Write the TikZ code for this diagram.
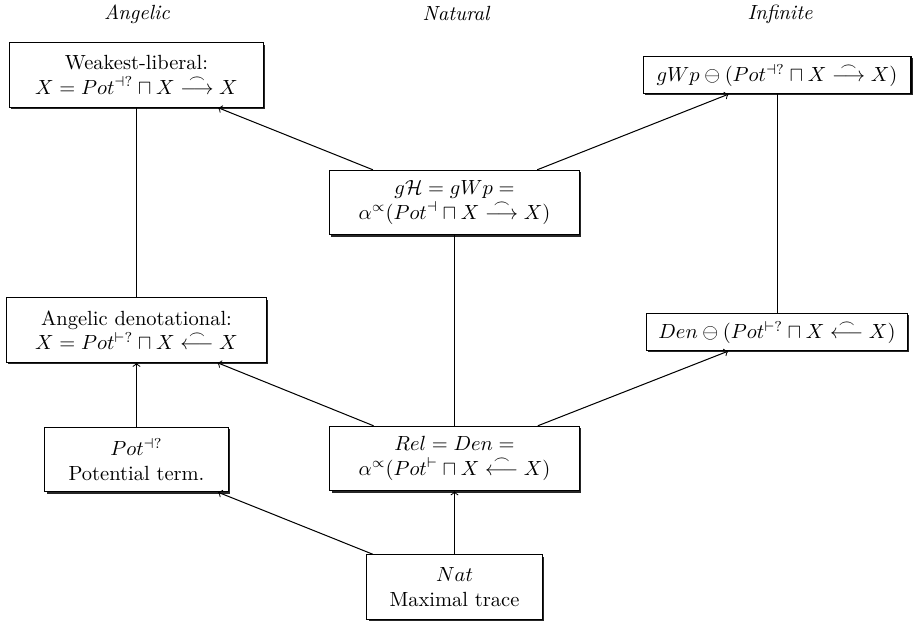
\documentclass[tikz,border=0pt]{standalone}
\usepackage{amsmath,amssymb}
\usetikzlibrary{shadows}
\newcommand{\rarc}{\mathrel{\overset{\frown}{\longrightarrow}}}
\newcommand{\larc}{\mathrel{\overset{\frown}{\longleftarrow}}}
\tikzset{
  box/.style={draw, line width=0.5pt, fill=white, align=center, inner sep=2pt,
    drop shadow={shadow xshift=0.9pt, shadow yshift=-0.9pt, fill=black, opacity=0.85}},
  tall/.style={box, minimum height=31.4pt},
  flat/.style={box, minimum height=18.2pt},
  conn/.style={line width=0.5pt},
  arr/.style={conn, ->},
  head/.style={font=\itshape}
}
\begin{document}
\begin{tikzpicture}[x=0.4878pt, y=-0.4878pt]
\useasboundingbox (0,0) rectangle (915,622);
% column headings
\node[head] (hA) at (137,14) {Angelic};
\node[head] (hN) at (456,14) {Natural};
\node[head] (hI) at (780,14) {Infinite};
% boxes
\node[tall, minimum width=123.9pt] (wl) at (136.5,75)
  {Weakest-liberal:\\ $X = Pot^{\dashv ?} \sqcap X \rarc X$};
\node[flat, minimum width=130.7pt] (gwp) at (777,75)
  {$gWp \ominus (Pot^{\dashv ?} \sqcap X \rarc X)$};
\node[tall, minimum width=122pt] (gh) at (454.5,202.5)
  {$g\mathcal{H} = gWp =$\\ $\alpha^{\propto}(Pot^{\dashv} \sqcap X \rarc X)$};
\node[tall, minimum width=126.8pt] (ad) at (136.5,330)
  {Angelic denotational:\\ $X = Pot^{\vdash ?} \sqcap X \larc X$};
\node[flat, minimum width=127.3pt] (den) at (777,332)
  {$Den \ominus (Pot^{\vdash ?} \sqcap X \larc X)$};
\node[tall, minimum width=89.3pt] (pot) at (136.5,459.5)
  {$Pot^{\dashv ?}$\\ Potential term.};
\node[tall, minimum width=121.5pt] (rel) at (454.5,458.5)
  {$Rel = Den =$\\ $\alpha^{\propto}(Pot^{\vdash} \sqcap X \larc X)$};
\node[tall, minimum width=85.4pt] (nat) at (454.5,587)
  {$Nat$\\ Maximal trace};
% connectors
\draw[arr] (nat) -- (pot);
\draw[arr] (nat) -- (rel);
\draw[arr] (pot) -- (ad);
\draw[arr] (rel) -- (ad);
\draw[arr] (rel) -- (den);
\draw[conn] (rel) -- (gh);
\draw[conn] (ad) -- (wl);
\draw[conn] (den) -- (gwp);
\draw[arr] (gh) -- (wl);
\draw[arr] (gh) -- (gwp);
\end{tikzpicture}
\end{document}
